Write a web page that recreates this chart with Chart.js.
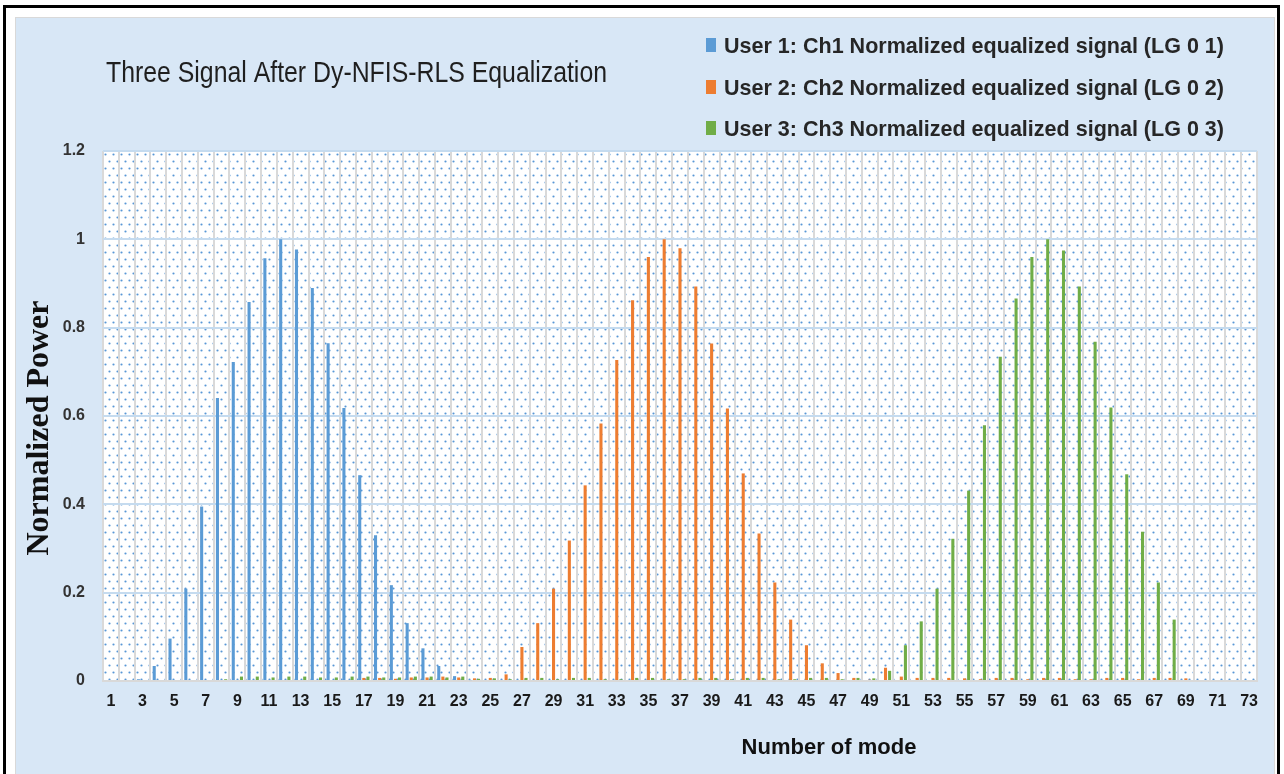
<!DOCTYPE html>
<html>
<head>
<meta charset="utf-8">
<title>Three Signal After Dy-NFIS-RLS Equalization</title>
<script src="https://cdn.jsdelivr.net/npm/chart.js@4.4.1/dist/chart.umd.min.js"></script>
<style>
    html, body { margin: 0; padding: 0; background: #fff; width: 1284px; height: 774px; overflow: hidden; }
    #frame { position: absolute; left: 3px; top: 5px; width: 1271px; height: 800px; border: 3px solid #000; }
    #panel { position: absolute; left: 15px; top: 17px; width: 1258px; height: 770px; border: 1px solid #d9d9d9; background: #d8e7f6; }
    #chartBox { position: absolute; left: 0; top: 0; width: 1258px; height: 756px; }
</style>
</head>
<body>
<div id="frame"></div>
<div id="panel">
    <div id="chartBox"><canvas id="signalChart"></canvas></div>
</div>
<script>
// Categories (mode number)
const modes = [1, 2, 3, 4, 5, 6, 7, 8, 9, 10, 11, 12, 13, 14, 15, 16, 17, 18, 19, 20,
    21, 22, 23, 24, 25, 26, 27, 28, 29, 30, 31, 32, 33, 34, 35, 36, 37, 38, 39, 40,
    41, 42, 43, 44, 45, 46, 47, 48, 49, 50, 51, 52, 53, 54, 55, 56, 57, 58, 59, 60,
    61, 62, 63, 64, 65, 66, 67, 68, 69, 70, 71, 72, 73];

const yTicks = [0, 0.2, 0.4, 0.6, 0.8, 1, 1.2];

// User 1 (LG 0 1)
const user1 = [0, 0, 0.004, 0.034, 0.096, 0.209, 0.395, 0.641, 0.722, 0.858,
    0.957, 1.0, 0.977, 0.890, 0.765, 0.618, 0.466, 0.330, 0.217, 0.131,
    0.074, 0.034, 0.011, 0.002, 0, 0, 0, 0, 0, 0,
    0, 0, 0, 0, 0, 0, 0, 0, 0, 0,
    0, 0, 0, 0, 0, 0, 0, 0, 0, 0,
    0, 0, 0, 0, 0, 0, 0, 0, 0, 0,
    0, 0, 0, 0, 0, 0, 0, 0, 0, 0,
    0, 0, 0];

// User 2 (LG 0 2)
const user2 = [0, 0, 0, 0, 0, 0, 0, 0, 0, 0,
    0, 0, 0, 0, 0, 0, 0.007, 0.007, 0.005, 0.008,
    0.008, 0.010, 0.008, 0.006, 0.007, 0.015, 0.077, 0.131, 0.209, 0.318,
    0.443, 0.583, 0.727, 0.862, 0.960, 1.0, 0.980, 0.893, 0.764, 0.617,
    0.470, 0.334, 0.223, 0.139, 0.081, 0.040, 0.018, 0.007, 0.003, 0.030,
    0.010, 0.007, 0.007, 0.007, 0.006, 0.004, 0.007, 0.007, 0.004, 0.007,
    0.007, 0.004, 0.004, 0.007, 0.007, 0.004, 0.007, 0.007, 0.006, 0,
    0, 0, 0];

// User 3 (LG 0 3)
const user3 = [0, 0, 0, 0, 0, 0, 0, 0.004, 0.010, 0.010,
    0.008, 0.010, 0.010, 0.008, 0.008, 0.010, 0.010, 0.008, 0.008, 0.010,
    0.010, 0.008, 0.010, 0.005, 0.006, 0.004, 0.007, 0.007, 0.004, 0.007,
    0.007, 0.004, 0.004, 0.007, 0.007, 0.004, 0.004, 0.007, 0.007, 0.004,
    0.007, 0.007, 0.004, 0.004, 0.007, 0.007, 0.004, 0.007, 0.006, 0.023,
    0.081, 0.135, 0.209, 0.322, 0.431, 0.579, 0.734, 0.866, 0.960, 1.0,
    0.975, 0.893, 0.768, 0.619, 0.468, 0.338, 0.223, 0.139, 0, 0,
    0, 0, 0];

const seriesNames = [
    'User 1: Ch1 Normalized equalized signal (LG 0 1)',
    'User 2: Ch2 Normalized equalized signal (LG 0 2)',
    'User 3: Ch3 Normalized equalized signal (LG 0 3)'
];
const seriesColors = ['#5b9bd5', '#ed7d31', '#70ad47'];

const chartTitle = 'Three Signal After Dy-NFIS-RLS Equalization';
const xTitle = 'Number of mode';
const yTitle = 'Normalized Power';

// Dotted fill of the plot area
function makeDotPattern(ctx) {
    const tile = document.createElement('canvas');
    tile.width = 8;
    tile.height = 14;
    const t = tile.getContext('2d');
    t.fillStyle = '#ffffff';
    t.fillRect(0, 0, 8, 14);
    t.fillStyle = 'rgba(70, 140, 210, 0.9)';
    t.beginPath();
    t.arc(2.5, 3.5, 1.1, 0, Math.PI * 2);
    t.arc(6.5, 10.5, 1.1, 0, Math.PI * 2);
    t.fill();
    return ctx.createPattern(tile, 'repeat');
}

const plotBackground = {
    id: 'plotBackground',
    beforeDraw(chart) {
        const { ctx, chartArea: a } = chart;
        ctx.save();
        ctx.translate(a.left, a.top);
        ctx.fillStyle = makeDotPattern(ctx);
        ctx.fillRect(0, 0, a.right - a.left, a.bottom - a.top);
        ctx.restore();
    }
};

// Title, legend and axis titles placed like the original sheet
const headerText = {
    id: 'headerText',
    afterDraw(chart) {
        const ctx = chart.ctx;
        ctx.save();
        ctx.textBaseline = 'alphabetic';
        ctx.textAlign = 'left';

        ctx.fillStyle = '#1f1f1f';
        ctx.font = '30px "Liberation Sans", Arial, sans-serif';
        ctx.fillText(chartTitle, 90, 64, 501);

        const rows = [27, 69, 110];
        ctx.font = 'bold 22px "Liberation Sans", Arial, sans-serif';
        chart.data.datasets.forEach((ds, i) => {
            ctx.fillStyle = ds.backgroundColor;
            ctx.fillRect(690, rows[i] - 7, 10, 14);
            ctx.fillStyle = '#262626';
            ctx.fillText(ds.label, 708, rows[i] + 8, 500);
        });

        ctx.fillStyle = '#111';
        ctx.textAlign = 'center';
        ctx.font = 'bold 22px "Liberation Sans", Arial, sans-serif';
        ctx.fillText(xTitle, 813, 736, 177);

        ctx.translate(24, 410);
        ctx.rotate(-Math.PI / 2);
        ctx.textBaseline = 'middle';
        ctx.font = 'bold 32px "Liberation Serif", "Times New Roman", serif';
        ctx.fillText(yTitle, 0, 0, 256);
        ctx.restore();
    }
};

const ctx = document.getElementById('signalChart').getContext('2d');
const signalChart = new Chart(ctx, {
    type: 'bar',
    data: {
        labels: modes,
        datasets: [user1, user2, user3].map((values, i) => ({
            label: seriesNames[i],
            data: values,
            backgroundColor: seriesColors[i],
            borderWidth: 0,
            categoryPercentage: 0.78,
            barPercentage: 0.75
        }))
    },
    options: {
        responsive: true,
        maintainAspectRatio: false,
        animation: false,
        layout: {
            padding: { left: 0, top: 133, right: 17, bottom: 0 }
        },
        plugins: {
            legend: { display: false },
            title: { display: false },
            tooltip: { enabled: false }
        },
        scales: {
            x: {
                grid: { color: '#d9d9d9', lineWidth: 2, drawTicks: false },
                border: { color: '#d9d9d9', width: 2 },
                ticks: {
                    autoSkip: false,
                    maxRotation: 0,
                    minRotation: 0,
                    padding: 11,
                    color: '#1a1a1a',
                    font: { family: '"Liberation Sans", Arial, sans-serif', size: 16, weight: 'bold' },
                    callback: function(value, index) {
                        return index % 2 === 0 ? modes[index] : '';
                    }
                },
                afterFit: function(scale) {
                    scale.height = 93;
                }
            },
            y: {
                min: 0,
                max: 1.2,
                grid: { color: '#c5dbef', lineWidth: 2, drawTicks: false },
                border: { display: false },
                afterBuildTicks: function(scale) {
                    scale.ticks = yTicks.map(v => ({ value: v }));
                },
                ticks: {
                    padding: 18,
                    color: '#333',
                    font: { family: '"Liberation Sans", Arial, sans-serif', size: 16, weight: 'bold' },
                    callback: function(value) {
                        return String(value);
                    }
                },
                afterFit: function(scale) {
                    scale.width = 87;
                }
            }
        }
    },
    plugins: [plotBackground, headerText]
});
</script>
</body>
</html>
